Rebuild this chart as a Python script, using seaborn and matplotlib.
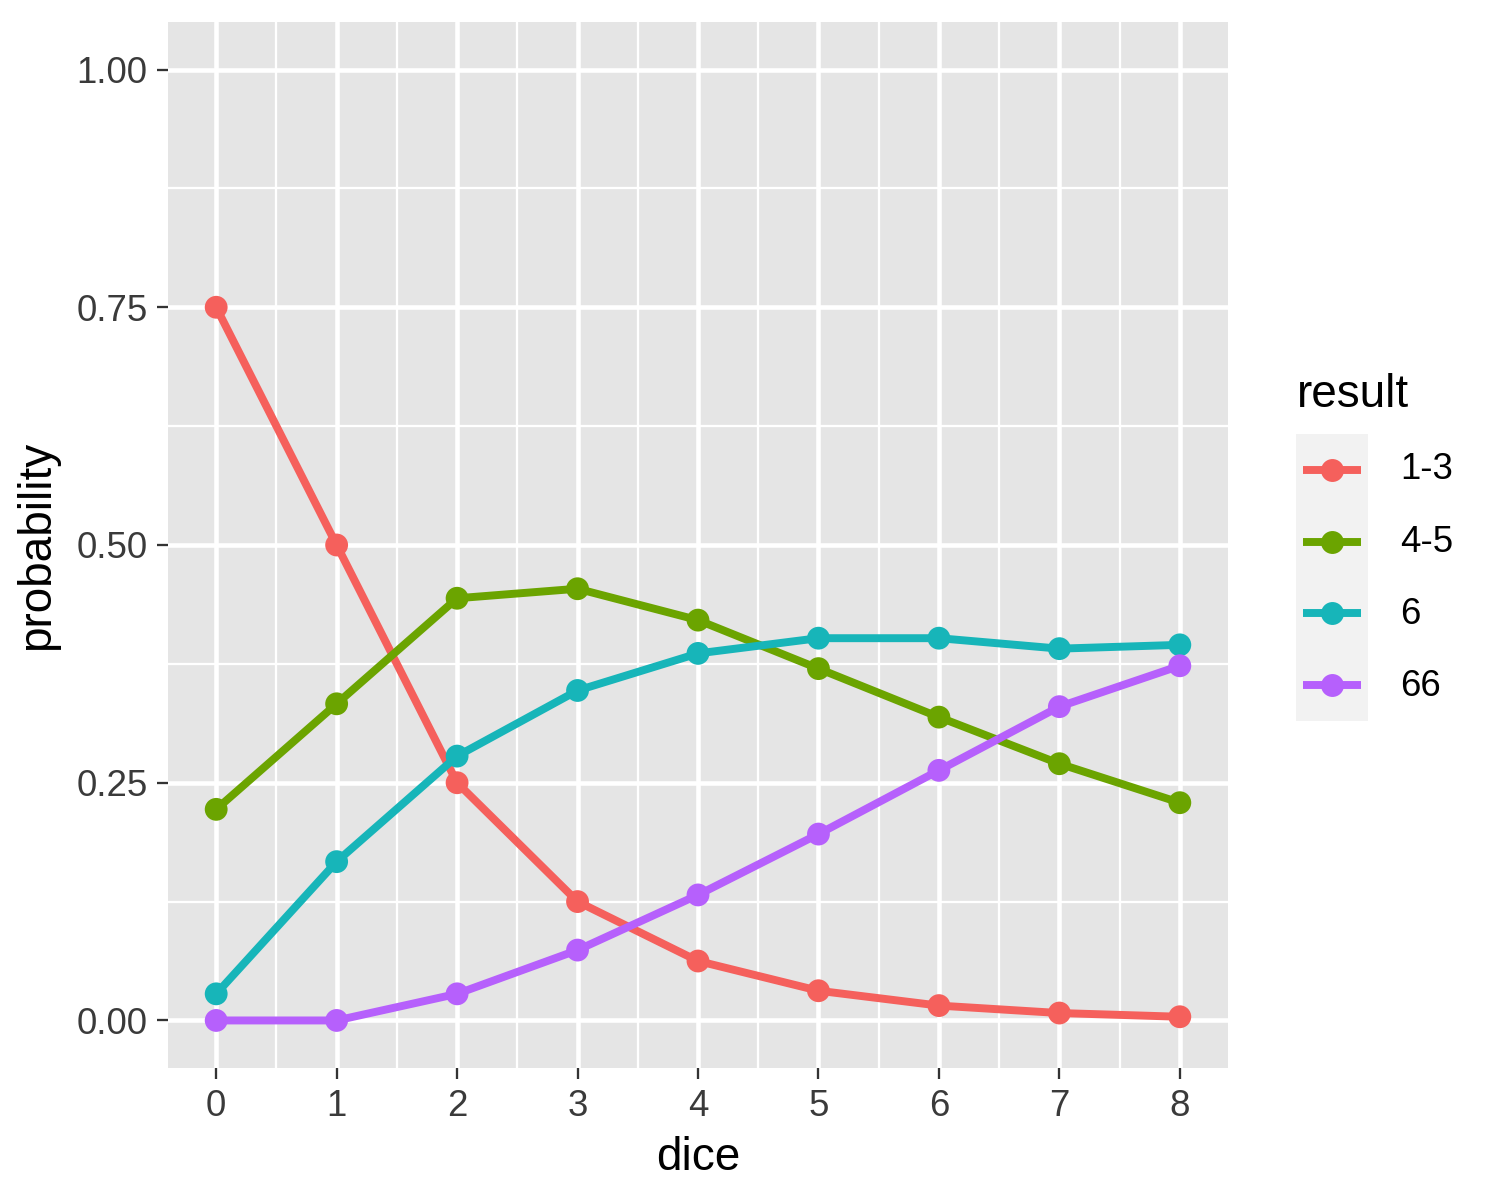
import matplotlib
matplotlib.use("Agg")
import matplotlib.pyplot as plt
import seaborn as sns
import pandas as pd
import numpy as np

dice = [0, 1, 2, 3, 4, 5, 6, 7, 8]
p_1_3 = [0.75, 0.5, 0.25, 0.125, 0.0625, 0.03125, 0.015625, 0.0078, 0.0039]
p_4_5 = [0.222, 0.333, 0.444, 0.454, 0.421, 0.370, 0.319, 0.270, 0.229]
p_6 = [0.028, 0.167, 0.278, 0.347, 0.386, 0.402, 0.402, 0.391, 0.395]
p_66 = [0.0, 0.0, 0.028, 0.074, 0.132, 0.196, 0.263, 0.330, 0.373]
results = ["1-3", "4-5", "6", "66"]
colors = ["#F5605C", "#6BA400", "#17B5B9", "#B660FC"]
yticks = [0.0, 0.25, 0.5, 0.75, 1.0]
ytick_labels = ["0.00", "0.25", "0.50", "0.75", "1.00"]

series = [p_1_3, p_4_5, p_6, p_66]
df = pd.concat([pd.DataFrame({"dice": dice, "probability": s, "result": r})
                for s, r in zip(series, results)], ignore_index=True)

sns.set_theme(style="darkgrid")
plt.rcParams['font.family'] = ['Liberation Sans', 'DejaVu Sans']

fig = plt.figure(figsize=(5, 4), dpi=300)
ax = fig.add_axes([168/1500, 1-1068/1200, (1228-168)/1500, (1068-22)/1200])
ax.set_facecolor("#E5E5E5")
palette = dict(zip(results, colors))
sns.lineplot(data=df, x="dice", y="probability", hue="result", palette=palette,
             linewidth=1.9, legend=False, ax=ax, zorder=3)
sns.scatterplot(data=df, x="dice", y="probability", hue="result", palette=palette,
                s=30, linewidth=0, legend=False, ax=ax, zorder=4)

ax.set_xlim(-0.4, 8.4)
ax.set_ylim(-0.05, 1.05)
ax.set_xticks(dice)
ax.set_xticklabels([str(d) for d in dice])
ax.set_yticks(yticks)
ax.set_yticklabels(ytick_labels)
ax.set_xticks(np.arange(0.5, 8, 1.0), minor=True)
ax.set_yticks([0.125, 0.375, 0.625, 0.875], minor=True)
ax.grid(which="major", color="white", linewidth=1.1)
ax.grid(which="minor", color="white", linewidth=0.55)
for s in ax.spines.values():
    s.set_visible(False)
ax.tick_params(axis="both", which="major", length=2.75, width=0.55, color="#333333",
               labelsize=8.8, labelcolor="#3A3A3A", pad=2.2, bottom=True, left=True)
ax.tick_params(axis="both", which="minor", length=0)
ax.set_xlabel("dice", fontsize=11, color="black", labelpad=3)
ax.set_ylabel("probability", fontsize=11, color="black", labelpad=4)

# legend
fig.text(1297/1500, 1-395/1200, "result", fontsize=11, va="center", ha="left", color="black")
lax = fig.add_axes([1296/1500, 1-721/1200, 72/1500, 287/1200])
lax.set_facecolor("#F2F2F2")
lax.set_xlim(0, 1)
lax.set_ylim(0, 4)
for i, (r, c) in enumerate(zip(results, colors)):
    yy = 3.5 - i
    lax.plot([0.1, 0.9], [yy, yy], color=c, linewidth=1.9, solid_capstyle="butt")
    lax.plot([0.5], [yy], marker="o", color=c, markersize=5.5, markeredgewidth=0)
    fig.text(1400/1500, 1-(434 + 72*(i+0.5))/1200, r, fontsize=8.8, va="center", ha="left", color="black")
lax.set_xticks([])
lax.set_yticks([])
lax.grid(False)
for s in lax.spines.values():
    s.set_visible(False)

fig.savefig("out.png", dpi=300, facecolor="white")
